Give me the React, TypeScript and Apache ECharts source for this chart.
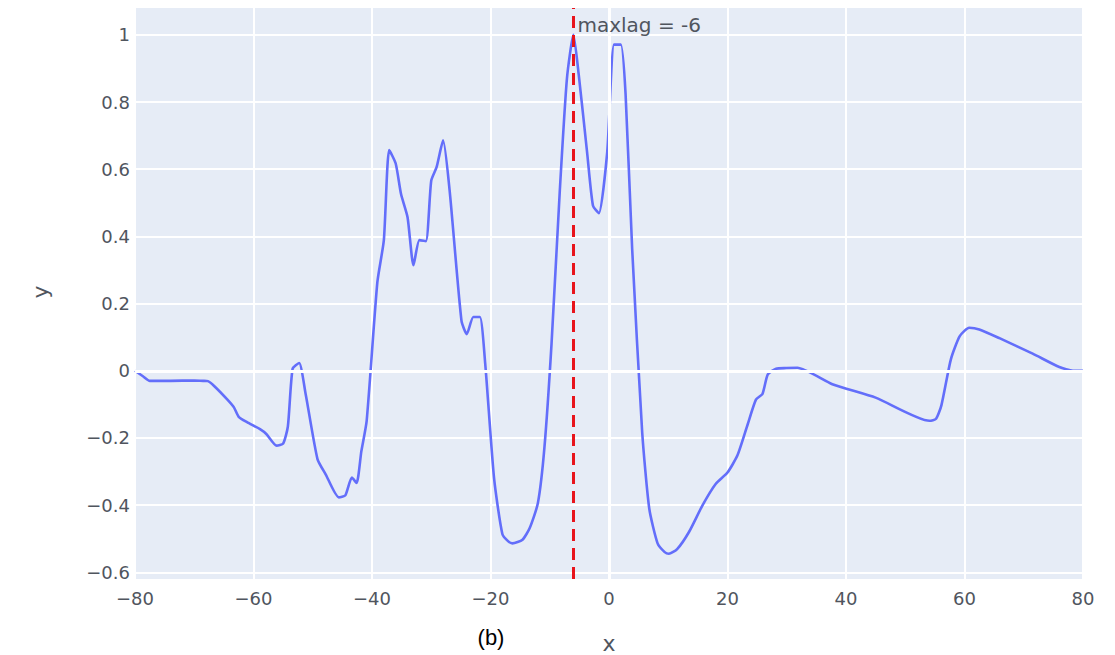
import React, { useEffect, useRef } from "react";
import * as echarts from "echarts";

const lagX: number[] = [
  -80, -78.6, -77.5, -74, -70, -68.5, -67.7, -66.6, -64.4, -63.3, -62.5, -61.1, -58.9, -57.8, -56.1, -55, -54.2,
  -53.4, -52.3, -51.2, -49.2, -47.8, -45.6, -44.5, -43.4, -42.6, -41.8, -40.9, -39.1, -38, -37.1, -36, -35.1, -34,
  -33, -32, -30.9, -30, -29.1, -28, -26.9, -24.9, -24, -22.9, -21.8, -20.9, -19.4, -18, -17, -16.3, -14.6, -13.4,
  -12, -10.9, -9.7, -8.3, -7.1, -6, -5.1, -3.7, -2.7, -1.7, -0.3, 0.85, 2, 2.8, 3.9, 5.6, 6.8, 8.2, 9.4, 10.1,
  11.5, 13.5, 15.8, 18, 20, 21.7, 23.4, 24.8, 25.9, 26.8, 28.2, 29.9, 31.8, 37.7, 45, 54.1, 55.2, 56.1, 57.7, 59.2,
  60.8, 62.5, 65.9, 71.5, 76, 78.3, 80,
];
const corrY: number[] = [
  0, -0.017, -0.03, -0.03, -0.029, -0.03, -0.031, -0.046, -0.086, -0.109, -0.137, -0.153, -0.174, -0.189, -0.223,
  -0.217, -0.166, 0.006, 0.023, -0.069, -0.263, -0.309, -0.377, -0.371, -0.318, -0.334, -0.24, -0.149, 0.263, 0.389,
  0.657, 0.617, 0.526, 0.457, 0.314, 0.389, 0.386, 0.566, 0.606, 0.686, 0.537, 0.149, 0.109, 0.16, 0.16, 0.023,
  -0.32, -0.486, -0.508, -0.514, -0.503, -0.469, -0.394, -0.229, 0.08, 0.537, 0.87, 1.0, 0.88, 0.651, 0.491,
  0.469, 0.651, 0.971, 0.971, 0.823, 0.366, -0.183, -0.411, -0.514, -0.54, -0.545, -0.531, -0.48, -0.4, -0.337,
  -0.303, -0.251, -0.16, -0.086, -0.069, -0.011, 0.006, 0.008, 0.009, -0.04, -0.08, -0.149, -0.143, -0.103, 0.034,
  0.103, 0.128, 0.123, 0.097, 0.051, 0.011, 0, 0,
];
const yTicks: number[] = [-0.6, -0.4, -0.2, 0, 0.2, 0.4, 0.6, 0.8, 1];
const maxLag = -6;
const annotationText = "maxlag = -6";
const xTitle = "x";
const yTitle = "y";
const captionText = "(b)";

const FONT = "'DejaVu Sans', Verdana, sans-serif";
const LABEL_COLOR = "#50555e";

const fmt = (v: number) => {
  const r = Math.round(v * 100) / 100;
  const s = String(r);
  return s.replace("-", "\u2212");
};

export default function App() {
  const ref = useRef<HTMLDivElement>(null);
  useEffect(() => {
    if (!ref.current) return;
    const chart = echarts.init(ref.current, undefined, { renderer: "svg" });
    const data = lagX.map((x, i) => [x, corrY[i]]);
    chart.setOption({
      animation: false,
      backgroundColor: "#ffffff",
      grid: {
        left: 135,
        right: 32,
        top: 8,
        bottom: 76,
        show: true,
        backgroundColor: "#e6ecf6",
        borderWidth: 0,
      },
      xAxis: {
        type: "value",
        min: -80,
        max: 80,
        interval: 20,
        axisLine: { show: false },
        axisTick: { show: false },
        splitLine: { show: true, lineStyle: { color: "#ffffff", width: 2 } },
        axisLabel: {
          color: LABEL_COLOR,
          fontFamily: FONT,
          fontSize: 18,
          margin: 10,
          formatter: (v: number) => fmt(v),
        },
      },
      yAxis: {
        type: "value",
        min: -0.62,
        max: 1.08,
        axisLine: { show: false },
        axisTick: { show: false, customValues: yTicks },
        splitLine: { show: true, lineStyle: { color: "#ffffff", width: 2 } },
        axisLabel: {
          customValues: yTicks,
          color: LABEL_COLOR,
          fontFamily: FONT,
          fontSize: 18,
          margin: 5,
          formatter: (v: number) => fmt(v),
        },
      },
      series: [
        {
          type: "line",
          data: [],
          z: 1,
          silent: true,
          markLine: {
            silent: true,
            symbol: "none",
            label: { show: false },
            lineStyle: { color: "#ffffff", width: 3, type: "solid" },
            data: [{ yAxis: 0 }, { xAxis: 0 }],
          },
        },
        {
          type: "line",
          data,
          showSymbol: false,
          smooth: 0.2,
          lineStyle: { color: "#636efa", width: 2.6 },
          z: 3,
          markLine: {
            silent: true,
            symbol: "none",
            label: { show: false },
            lineStyle: { color: "#e8141c", width: 3, type: [12, 7] },
            data: [{ xAxis: maxLag }],
            z: 4,
          },
        },
      ],
    });
    const p = chart.convertToPixel({ gridIndex: 0 }, [maxLag, 1.03]) as number[];
    chart.setOption({
      graphic: [
        {
          type: "text",
          x: p[0] + 4,
          y: p[1],
          style: {
            text: annotationText,
            fill: LABEL_COLOR,
            font: `20px ${FONT}`,
            verticalAlign: "middle",
            align: "left",
          },
          z: 10,
        },
        {
          type: "text",
          x: 609,
          y: 643,
          style: {
            text: xTitle,
            fill: LABEL_COLOR,
            font: `22px ${FONT}`,
            verticalAlign: "middle",
            align: "center",
          },
        },
        {
          type: "text",
          x: 40,
          y: 292,
          rotation: Math.PI / 2,
          style: {
            text: yTitle,
            fill: LABEL_COLOR,
            font: `22px ${FONT}`,
            verticalAlign: "middle",
            align: "center",
          },
        },
        {
          type: "text",
          x: 491,
          y: 637,
          style: {
            text: captionText,
            fill: "#000000",
            font: `22px 'Liberation Sans', 'DejaVu Sans', sans-serif`,
            verticalAlign: "middle",
            align: "center",
          },
        },
      ],
    });
    return () => chart.dispose();
  }, []);
  return (
    <div
      ref={ref}
      style={{ position: "absolute", left: 0, top: 0, width: 1115, height: 655 }}
    />
  );
}
